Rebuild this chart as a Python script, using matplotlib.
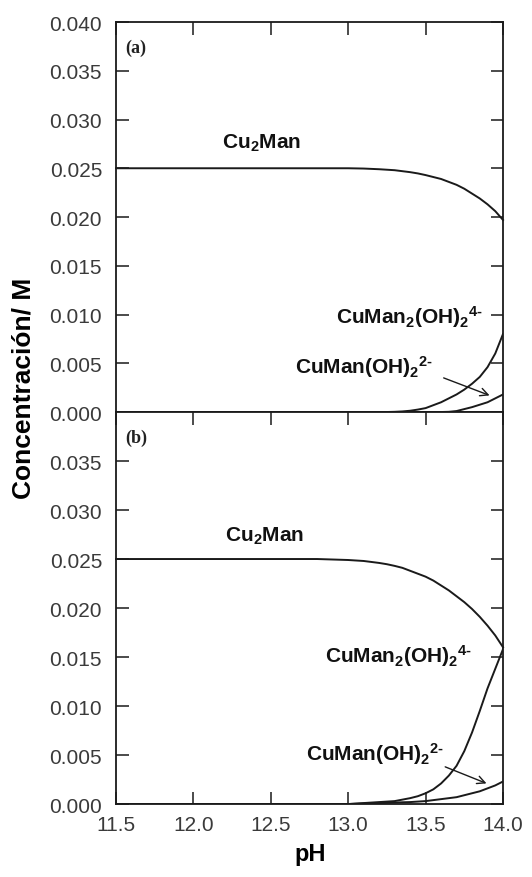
import matplotlib
matplotlib.use("Agg")
import matplotlib.pyplot as plt
import matplotlib.ticker as ticker

plt.rcParams["font.family"] = ["Liberation Sans", "DejaVu Sans"]
plt.rcParams["mathtext.fontset"] = "custom"
plt.rcParams["mathtext.rm"] = "Liberation Sans:bold"
plt.rcParams["mathtext.it"] = "Liberation Sans:bold"
plt.rcParams["mathtext.bf"] = "Liberation Sans:bold"
plt.rcParams["mathtext.default"] = "rm"

# pH grid shared by both panels
ph = [11.5, 12.0, 12.5, 12.8, 13.0, 13.1, 13.2, 13.25, 13.3, 13.35, 13.4, 13.45,
      13.5, 13.55, 13.6, 13.65, 13.7, 13.75, 13.8, 13.85, 13.9, 13.95, 14.0]

# (a)
cu2man_a = [0.0250, 0.0250, 0.0250, 0.0250, 0.0250, 0.02497, 0.0249, 0.02485, 0.0248,
            0.0247, 0.0246, 0.02447, 0.0243, 0.0241, 0.0239, 0.0236, 0.0233, 0.0229,
            0.0224, 0.0219, 0.0213, 0.0206, 0.0197]
cuman2_a = [0.0, 0.0, 0.0, 0.0, 0.0, 0.0, 0.0, 0.0, 0.00002, 0.00006, 0.00013, 0.00025,
            0.0004, 0.0007, 0.0010, 0.0014, 0.0018, 0.0023, 0.0029, 0.0036, 0.0046,
            0.0060, 0.0080]
cuman_a = [0.0, 0.0, 0.0, 0.0, 0.0, 0.0, 0.0, 0.0, 0.0, 0.0, 0.0, 0.0,
           0.0, 0.0, 0.0, 0.00002, 0.0001, 0.0003, 0.0005, 0.00075, 0.0010,
           0.0014, 0.0018]

# (b)
cu2man_b = [0.0250, 0.0250, 0.0250, 0.0250, 0.0249, 0.0248, 0.0246, 0.02447, 0.0243,
            0.0241, 0.0238, 0.0235, 0.0232, 0.0228, 0.0223, 0.0218, 0.0212, 0.0206,
            0.0199, 0.0191, 0.0182, 0.0172, 0.0160]
cuman2_b = [0.0, 0.0, 0.0, 0.0, 0.0, 0.0001, 0.0002, 0.00025, 0.0003, 0.00045, 0.0006,
            0.0008, 0.0011, 0.0015, 0.0021, 0.0029, 0.0039, 0.0054, 0.0073, 0.0095,
            0.0118, 0.0138, 0.0158]
cuman_b = [0.0, 0.0, 0.0, 0.0, 0.0, 0.00005, 0.0001, 0.00012, 0.00015, 0.00018, 0.0002,
           0.00025, 0.0003, 0.0004, 0.0005, 0.0006, 0.0007, 0.0009, 0.0011, 0.0013,
           0.0016, 0.0019, 0.0023]

xticks = [11.5, 12.0, 12.5, 13.0, 13.5, 14.0]
yticks_a = [0.000, 0.005, 0.010, 0.015, 0.020, 0.025, 0.030, 0.035, 0.040]
yticks_b = [0.000, 0.005, 0.010, 0.015, 0.020, 0.025, 0.030, 0.035]

LINE = "#1a1a1a"
TICKCOL = "#3a3a3a"

fig = plt.figure(figsize=(5.32, 8.78), dpi=100)
left, width = 0.218, 0.7275
ax_a = fig.add_axes([left, 0.5296, width, 0.4442])
ax_b = fig.add_axes([left, 0.0831, width, 0.4465])


def style(ax, yticks, top_ticks, bottom_ticks):
    ax.set_xlim(11.5, 14.0)
    ax.set_ylim(0, 0.040)
    ax.set_xticks(xticks)
    ax.set_yticks(yticks)
    ax.yaxis.set_major_formatter(ticker.FormatStrFormatter("%.3f"))
    ax.xaxis.set_major_formatter(ticker.FormatStrFormatter("%.1f"))
    ax.tick_params(axis="both", direction="in", length=9, width=1.1,
                   color=LINE, labelsize=15, labelcolor=TICKCOL)
    ax.tick_params(axis="y", right=True, pad=10)
    ax.tick_params(axis="x", top=top_ticks, bottom=bottom_ticks, pad=8)
    for sp in ax.spines.values():
        sp.set_linewidth(1.3)
        sp.set_color(LINE)


style(ax_a, yticks_a, True, False)
ax_a.tick_params(axis="x", labelbottom=False)
style(ax_b, yticks_b, True, True)

for ax, c1, c2, c3 in [(ax_a, cu2man_a, cuman2_a, cuman_a),
                       (ax_b, cu2man_b, cuman2_b, cuman_b)]:
    ax.plot(ph, c1, color=LINE, lw=1.4, clip_on=False)
    ax.plot(ph, c2, color=LINE, lw=1.4)
    ax.plot(ph, c3, color=LINE, lw=1.4)

lab_kw = dict(fontsize=15, fontweight="bold", color="#111111")
sp4 = r"CuMan$_2$(OH)$_2$$^{4\text{-}}$"
sp2 = r"CuMan(OH)$_2$$^{2\text{-}}$"

# panel (a) labels
ax_a.text(11.56, 0.0374, "(a)", family="Liberation Serif", fontweight="bold",
          fontsize=13, color="#222222", va="center")
ax_a.text(12.44, 0.0277, r"Cu$_2$Man", ha="center", va="center", **lab_kw)
ax_a.text(13.87, 0.0098, sp4, ha="right", va="center", **lab_kw)
ax_a.text(13.55, 0.0047, sp2, ha="right", va="center", **lab_kw)
ax_a.annotate("", xy=(13.93, 0.0016), xytext=(13.60, 0.0036),
              arrowprops=dict(arrowstyle="->", color=LINE, lw=1.0,
                              mutation_scale=14))

# panel (b) labels
ax_b.text(11.56, 0.0374, "(b)", family="Liberation Serif", fontweight="bold",
          fontsize=13, color="#222222", va="center")
ax_b.text(12.46, 0.0274, r"Cu$_2$Man", ha="center", va="center", **lab_kw)
ax_b.text(13.80, 0.0152, sp4, ha="right", va="center", **lab_kw)
ax_b.text(13.62, 0.0052, sp2, ha="right", va="center", **lab_kw)
ax_b.annotate("", xy=(13.91, 0.0020), xytext=(13.61, 0.0039),
              arrowprops=dict(arrowstyle="->", color=LINE, lw=1.0,
                              mutation_scale=14))

fig.text(24 / 532, 1 - 388 / 878, "Concentración/ M", rotation=90,
         ha="center", va="center", fontsize=19, fontweight="bold")
fig.text(310 / 532, 1 - 855 / 878, "pH", ha="center", va="center",
         fontsize=17, fontweight="bold")

fig.savefig("out.png", dpi=100, facecolor="white")
